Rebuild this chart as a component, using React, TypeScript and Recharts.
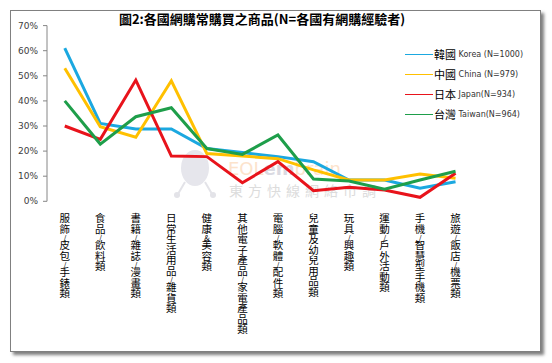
import React from 'react';
import { LineChart, Line, XAxis, YAxis, Legend } from 'recharts';

const categories = [
  '服飾/皮包/手錶類',
  '食品/飲料類',
  '書籍/雜誌/漫畫類',
  '日常生活用品/雜貨類',
  '健康 & 美容類',
  '其他電子產品/家電產品類',
  '電腦/軟體/配件類',
  '兒童及幼兒用品類',
  '玩具/興趣類',
  '運動/戶外活動類',
  '手機/智慧型手機類',
  '旅遊/飯店/機票類',
];
const korea = [61, 31, 28.8, 28.8, 21, 19.4, 17.8, 15.8, 8.5, 8.5, 5.2, 7.8];
const china = [53, 29.7, 25.5, 48, 19, 18, 17, 12.5, 8.5, 8.5, 10.9, 9.2];
const japan = [30, 24.7, 48.3, 18, 17.8, 7.4, 15.8, 4.2, 5.6, 4.5, 1.6, 11.2];
const taiwan = [40, 22.8, 33.7, 37.3, 21, 18.7, 26.4, 8.9, 8.1, 4.8, 8.5, 12];
const yTicks = [0, 10, 20, 30, 40, 50, 60, 70];
const boundaryTicks = [0, 1, 2, 3, 4, 5, 6, 7, 8, 9, 10, 11, 12];

const title = '圖2:各國網購常購買之商品(N=各國有網購經驗者)';

const series = [
  { key: 'korea', cjk: '韓國', latin: ' Korea (N=1000)', color: '#1BA8E0' },
  { key: 'china', cjk: '中國', latin: ' China (N=979)', color: '#FFC000' },
  { key: 'japan', cjk: '日本', latin: ' Japan(N=934)', color: '#E8131B' },
  { key: 'taiwan', cjk: '台灣', latin: ' Taiwan(N=964)', color: '#1E9E4A' },
];

const data = categories.map((c, i) => ({
  name: c,
  idx: i + 0.5,
  korea: korea[i],
  china: china[i],
  japan: japan[i],
  taiwan: taiwan[i],
}));

const CJK_FONT = '"Noto Sans CJK TC", "Noto Sans CJK SC", sans-serif';

const VerticalTick = (props: any) => {
  const { x, y, payload } = props;
  const chars = Array.from(String(payload.value));
  return (
    <text
      x={x}
      y={y + 11.5}
      textAnchor="start"
      fontFamily={CJK_FONT}
      fontSize={10.5}
      fill="#000"
      style={{ writingMode: 'vertical-rl', textOrientation: 'upright' } as any}
    >
      {chars.map((ch, i) => {
        if (ch === ' ') return null;
        const half = /[\x00-\x7f]/.test(ch);
        return half ? (
          <tspan key={i} fontSize={8} letterSpacing={-2}>
            {ch}
          </tspan>
        ) : (
          <tspan key={i}>{ch}</tspan>
        );
      })}
    </text>
  );
};

const LegendContent = () => (
  <div style={{ width: 150 }}>
    {series.map((s) => (
      <div key={s.key} style={{ display: 'flex', alignItems: 'center', height: 20, whiteSpace: 'nowrap' }}>
        <div style={{ width: 28, height: 0, borderTop: `1px solid ${s.color}`, marginRight: 1 }} />
        <span style={{ fontFamily: CJK_FONT, fontSize: 11, color: '#000' }}>{s.cjk}</span>
        <span style={{ fontFamily: '"DejaVu Sans", sans-serif', fontSize: 8, color: '#333', whiteSpace: 'pre' }}>{s.latin}</span>
      </div>
    ))}
  </div>
);

export default function App() {
  return (
    <div style={{ position: 'absolute', left: 0, top: 0, width: 552, height: 363, background: '#fff' }}>
      <div
        style={{
          position: 'absolute',
          left: 10,
          top: 10,
          width: 529,
          height: 340,
          border: '1px solid #808080',
          boxShadow: '3px 3px 3px rgba(0,0,0,0.5)',
          background: '#fff',
        }}
      />
      <svg width={552} height={363} style={{ position: 'absolute', left: 0, top: 0 }}>
        <ellipse cx={195} cy={168} rx={14} ry={18} fill="#E6E6EC" />
        <line x1={185} y1={182} x2={178} y2={194} stroke="#E3E3E8" strokeWidth={2} />
        <line x1={205} y1={182} x2={212} y2={194} stroke="#E3E3E8" strokeWidth={2} />
        <circle cx={177} cy={195} r={3} fill="#E3E3E8" />
        <circle cx={213} cy={195} r={3} fill="#E3E3E8" />
        <text x={228} y={175} fontSize={18} fontFamily="'DejaVu Sans', sans-serif">
          <tspan fill="#FCE3CC">EOL</tspan>
          <tspan fill="#DADAE2" fontWeight="bold">em</tspan>
          <tspan fill="#FCE3CC">brain</tspan>
        </text>
        <text x={229} y={196} fontSize={14} fontFamily={CJK_FONT} fill="#DCDCDC" letterSpacing={5}>
          東方快線網絡市調
        </text>
        <text x={262} y={24} textAnchor="middle" fontSize={13} fontWeight="bold" fontFamily={CJK_FONT} fill="#000">
          {title}
        </text>
      </svg>
      <div style={{ position: 'absolute', left: 0, top: 0 }}>
        <LineChart
          width={552}
          height={363}
          data={data}
          margin={{ top: 25.6, right: 78.7, left: 0, bottom: 41.7 }}
        >
          <XAxis
            xAxisId="grid"
            type="number"
            dataKey="idx"
            domain={[0, 12]}
            ticks={boundaryTicks}
            allowDataOverflow
            height={0}
            tick={() => <g />}
            tickSize={4}
            stroke="#868686"
            axisLine={{ stroke: '#868686' }}
            tickLine={{ stroke: '#868686' }}
          />
          <XAxis
            dataKey="name"
            scale="band"
            height={120}
            interval={0}
            axisLine={false}
            tickLine={false}
            tickSize={0}
            tickMargin={0}
            tick={<VerticalTick />}
          />
          <YAxis
            width={47}
            domain={[0, 70]}
            ticks={yTicks}
            tickFormatter={(v: number) => `${v}%`}
            tickSize={4}
            tickMargin={5}
            axisLine={{ stroke: '#868686' }}
            tickLine={{ stroke: '#868686' }}
            tick={{ fontSize: 9, fill: '#404040', fontFamily: '"DejaVu Sans", sans-serif' }}
          />
          <Legend
            layout="vertical"
            align="center"
            verticalAlign="middle"
            content={<LegendContent />}
            wrapperStyle={{ position: 'absolute', left: 405, top: 44, width: 150 }}
          />
          {series.map((s) => (
            <Line
              key={s.key}
              type="linear"
              dataKey={s.key}
              stroke={s.color}
              strokeWidth={3}
              dot={false}
              activeDot={false}
              isAnimationActive={false}
            />
          ))}
        </LineChart>
      </div>
    </div>
  );
}
